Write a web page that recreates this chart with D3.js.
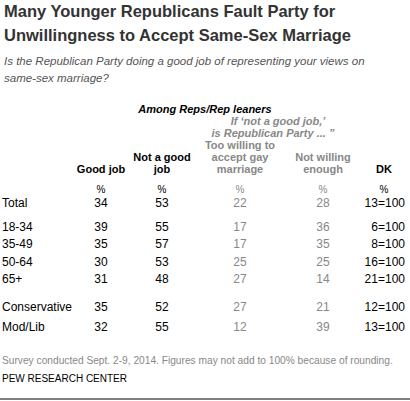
<!DOCTYPE html>
<html><head><meta charset="utf-8">
<script src="https://cdn.jsdelivr.net/npm/d3@7"></script>
<style>body{margin:0;background:#fff}text{font-family:"Liberation Sans",Arial,sans-serif}</style>
</head><body>
<script>
var rows = ['Total', '18-34', '35-49', '50-64', '65+', 'Conservative', 'Mod/Lib'];
var goodJob = [34, 39, 35, 30, 31, 35, 32];
var notGood = [53, 55, 57, 53, 48, 52, 55];
var tooWilling = [22, 17, 17, 25, 27, 27, 12];
var notWilling = [28, 36, 35, 25, 14, 21, 39];
var dk = [13, 6, 8, 16, 21, 12, 13];
var rowY = [185, 209, 226, 244, 261, 289, 309];

var svg = d3.select('body').append('svg').attr('width', 410).attr('height', 401);

function txt(x, y, s, o) {
  o = o || {};
  return svg.append('text').attr('x', x).attr('y', y).text(s)
    .attr('font-size', o.size || 12)
    .attr('font-weight', o.bold ? 'bold' : null)
    .attr('font-style', o.italic ? 'italic' : null)
    .attr('fill', o.fill || '#000')
    .attr('text-anchor', o.anchor || 'start');
}

txt(4, 17, 'Many Younger Republicans Fault Party for', {size: 16.5, bold: true, fill: '#333'});
txt(4, 41, 'Unwillingness to Accept Same-Sex Marriage', {size: 16.5, bold: true, fill: '#333'});
txt(4, 65, 'Is the Republican Party doing a good job of representing your views on', {size: 11.5, italic: true, fill: '#555'});
txt(4, 82, 'same-sex marriage?', {size: 11.5, italic: true, fill: '#555'});

txt(205, 113, 'Among Reps/Rep leaners', {size: 11, bold: true, italic: true, anchor: 'middle'});
txt(278, 125, 'If \u2018not a good job,\u2019', {size: 11, bold: true, italic: true, anchor: 'middle', fill: '#888'});
txt(273, 137, 'is Republican Party ... \u201d', {size: 11, bold: true, italic: true, anchor: 'middle', fill: '#888'});

var gray = '#888';
var cols = [
  {x: 101, head: ['Good job'], vals: goodJob, fill: '#000'},
  {x: 162, head: ['Not a good', 'job'], vals: notGood, fill: '#000'},
  {x: 240, head: ['Too willing to', 'accept gay', 'marriage'], vals: tooWilling, fill: gray},
  {x: 323, head: ['Not willing', 'enough'], vals: notWilling, fill: gray},
  {x: 384, head: ['DK'], vals: dk, fill: '#000'}
];
cols.forEach(function(c) {
  var n = c.head.length;
  c.head.forEach(function(h, i) {
    txt(c.x, 173 - 12 * (n - 1 - i), h, {size: 11, bold: true, anchor: 'middle', fill: c.fill});
  });
  txt(c.x, 164 + 30, '%', {size: 10, anchor: 'middle', fill: c.fill}).attr('y', 193);
});

rows.forEach(function(r, i) {
  var y = rowY[i] + 22;
  txt(2, y, r, {size: 12});
  cols.forEach(function(c, j) {
    var v = j === 4 ? c.vals[i] + '=100' : c.vals[i];
    txt(j === 4 ? 405 : c.x, y, v, {size: 12, fill: c.fill, anchor: j === 4 ? 'end' : 'middle'});
  });
});

txt(2, 364, 'Survey conducted Sept. 2-9, 2014. Figures may not add to 100% because of rounding.', {size: 10.2, fill: '#888'});
txt(2, 382, 'PEW RESEARCH CENTER', {size: 10, fill: '#000'});
svg.append('line').attr('x1', 0).attr('x2', 410).attr('y1', 399).attr('y2', 399).attr('stroke', '#000');
</script>
</body></html>
